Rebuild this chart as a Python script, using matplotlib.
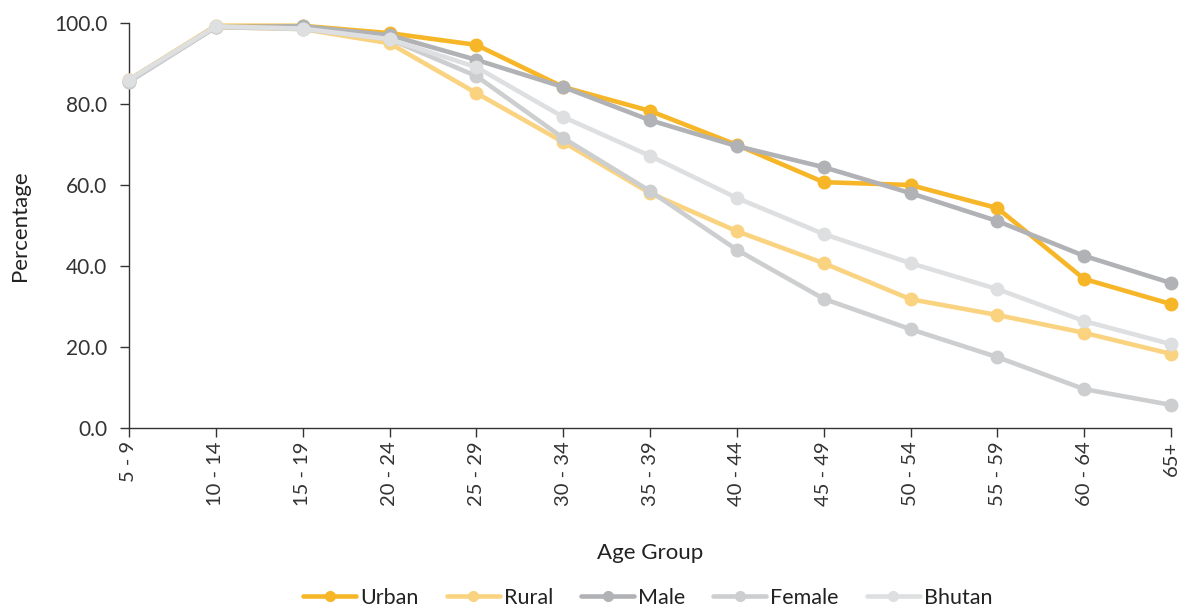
import matplotlib
matplotlib.use("Agg")
import matplotlib.pyplot as plt

age_groups = ["5 - 9", "10 - 14", "15 - 19", "20 - 24", "25 - 29", "30 - 34", "35 - 39",
              "40 - 44", "45 - 49", "50 - 54", "55 - 59", "60 - 64", "65+"]
urban  = [86.0, 99.3, 99.3, 97.5, 94.6, 84.2, 78.3, 69.9, 60.7, 60.0, 54.3, 36.8, 30.6]
rural  = [86.0, 99.0, 98.5, 95.0, 82.7, 70.6, 58.0, 48.6, 40.7, 31.8, 27.9, 23.5, 18.3]
male   = [85.5, 99.0, 99.2, 97.0, 90.9, 84.2, 76.0, 69.6, 64.4, 58.0, 51.1, 42.5, 35.8]
female = [85.5, 99.0, 98.5, 96.0, 86.9, 71.6, 58.5, 44.0, 31.9, 24.4, 17.5, 9.6, 5.7]
bhutan = [86.0, 99.2, 98.6, 96.0, 89.1, 76.8, 67.2, 56.8, 47.9, 40.7, 34.3, 26.4, 20.7]

series = [("Urban", urban, "#F6B628"),
          ("Rural", rural, "#FAD381"),
          ("Male", male, "#B1B2B5"),
          ("Female", female, "#CDCECF"),
          ("Bhutan", bhutan, "#DEDFE0")]

plt.rcParams['font.family'] = ['Lato', 'DejaVu Sans']
fig = plt.figure(figsize=(11.84, 6.09), dpi=100)
ax = fig.add_axes([129/1184, 1-428/609, (1171-129)/1184, (428-23)/609])

x = list(range(len(age_groups)))
for name, vals, col in series:
    ax.plot(x, vals, color=col, lw=3.3, marker='o', markersize=9, label=name,
            solid_capstyle='round', solid_joinstyle='round', clip_on=False)

ax.set_xlim(0, len(age_groups)-1)
ax.set_ylim(0, 100)
yt = [0, 20, 40, 60, 80, 100]
ax.set_yticks(yt)
ax.set_yticklabels([f"{v:.1f}" for v in yt], fontsize=15, color='#333333')
ax.set_xticks(x)
ax.set_xticklabels(age_groups, rotation=90, fontsize=14.5, color='#333333')
ax.tick_params(axis='both', direction='out', length=6.5, width=1, color='#333333')
ax.tick_params(axis='x', pad=3)
ax.tick_params(axis='y', pad=9)
for s in ['top', 'right']:
    ax.spines[s].set_visible(False)
for s in ['left', 'bottom']:
    ax.spines[s].set_color('#333333')
    ax.spines[s].set_linewidth(1)
    ax.spines[s].set_zorder(0)

ax.set_ylabel("Percentage", fontsize=16, color='#222222')
ax.yaxis.set_label_coords((30-129)/(1171-129), 0.5)
ax.set_xlabel("Age Group", fontsize=16, color='#222222')
ax.xaxis.set_label_coords(0.5, -(543-428)/(428-23))

leg = fig.legend(loc='center', bbox_to_anchor=(648/1184, 1-598/609), ncol=5, frameon=False,
                 fontsize=15.5, handlelength=2.45, columnspacing=1.3, handletextpad=0.2,
                 borderaxespad=0, labelcolor='#222222')
for h in leg.legend_handles:
    h.set_markersize(7)

fig.savefig("out.png", dpi=100)
